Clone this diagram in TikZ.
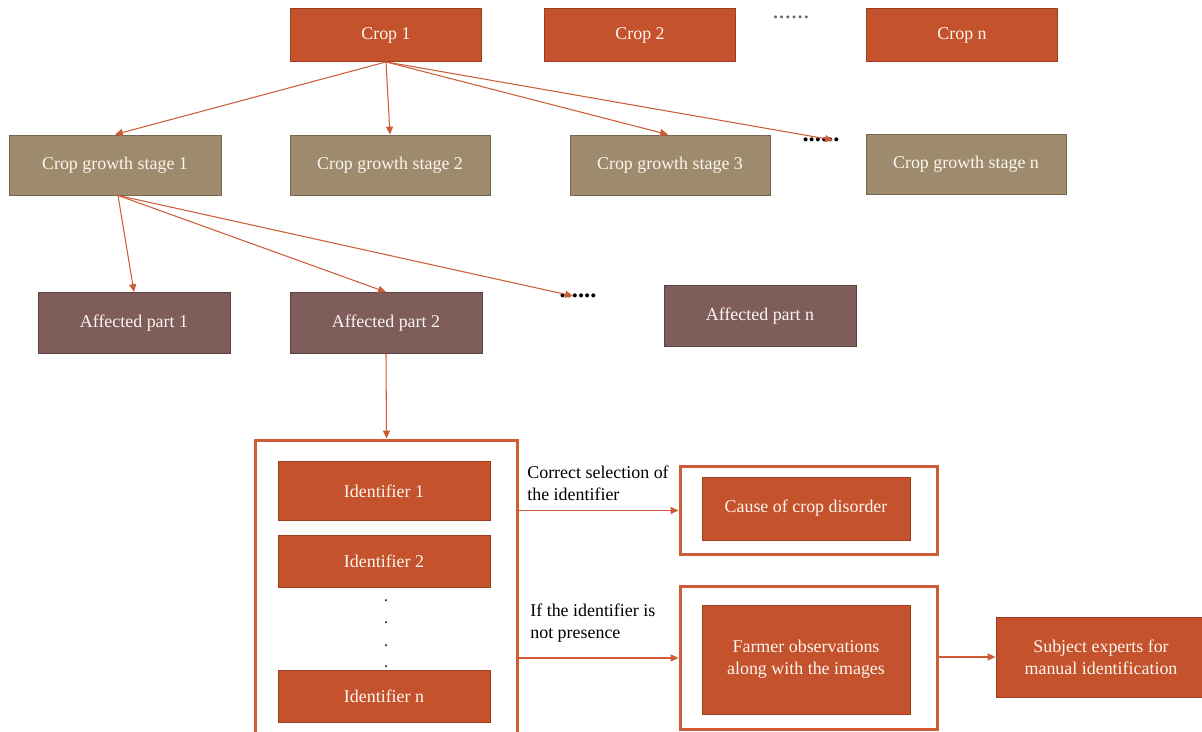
\documentclass[tikz,border=0pt]{standalone}
\usepackage{fontspec}
\setmainfont{Liberation Serif}
\usetikzlibrary{arrows.meta}

\definecolor{cropred}{RGB}{196,82,45}
\definecolor{cropedge}{RGB}{158,60,30}
\definecolor{stagetan}{RGB}{158,139,109}
\definecolor{stageedge}{RGB}{118,102,78}
\definecolor{partbrown}{RGB}{126,93,91}
\definecolor{partedge}{RGB}{92,66,64}
\definecolor{boxtext}{RGB}{252,246,238}
\definecolor{linkred}{RGB}{206,92,55}

\begin{document}
\begin{tikzpicture}[x=0.02cm,y=-0.02cm,
  font=\fontsize{10.2}{12.5}\selectfont,
  box/.style={draw=cropedge,fill=cropred,text=boxtext,line width=0.5pt,inner sep=2pt,align=center},
  cropbox/.style={box,minimum width=3.82cm,minimum height=1.06cm},
  stagebox/.style={box,draw=stageedge,fill=stagetan,minimum width=4cm,minimum height=1.2cm},
  partbox/.style={box,draw=partedge,fill=partbrown,minimum width=3.84cm,minimum height=1.22cm},
  idbox/.style={box,minimum width=4.24cm,minimum height=1.04cm},
  frame/.style={draw=linkred,line width=1.7pt,inner sep=0pt},
  dots/.style={inner sep=0pt,text=black!80},
  rowdots/.style={dots,font=\fontsize{14}{14}\selectfont},
  link/.style={draw=linkred,line width=0.6pt,-{Triangle[length=4.5pt,width=4pt]}}]
\useasboundingbox (0,0) rectangle (1202,732);

% crops
\node[cropbox] (c1) at (386,35) {Crop 1};
\node[cropbox] (c2) at (640,35) {Crop 2};
\node[rowdots,text=black!60] (cdots) at (791,17) {......};
\node[cropbox] (cn) at (962,35) {Crop n};

% growth stages
\node[stagebox,minimum width=4.24cm] (g1) at (115,165) {Crop growth stage 1};
\node[stagebox] (g2) at (390,165) {Crop growth stage 2};
\node[stagebox] (g3) at (670,165) {Crop growth stage 3};
\node[rowdots,text=black] (gdots) at (821,140) {\textbf{......}};
\node[stagebox] (gn) at (966,164) {Crop growth stage n};

\draw[link] (c1.south) -- (g1.north);
\draw[link] (c1.south) -- (g2.north);
\draw[link] (c1.south) -- ([xshift=-0.04cm]g3.north);
\draw[link] (c1.south) -- ([xshift=0.24cm]gdots.center);

% affected parts
\node[partbox] (a1) at (134,323) {Affected part 1};
\node[partbox] (a2) at (386,323) {Affected part 2};
\node[rowdots,text=black] (pdots) at (578,296) {\textbf{......}};
\node[partbox] (an) at (760,316) {Affected part n};

\draw[link] ([xshift=0.06cm]g1.south) -- (a1.north);
\draw[link] ([xshift=0.06cm]g1.south) -- (a2.north);
\draw[link] ([xshift=0.06cm]g1.south) -- ([xshift=-0.1cm]pdots.center);

% identifiers
\node[frame,minimum width=5.26cm,minimum height=6.4cm] (ids) at (386.5,600) {};
\node[idbox,minimum height=1.18cm] (id1) at (384,491) {Identifier 1};
\node[idbox] (id2) at (384,561) {Identifier 2};
\foreach \y in {601,623,646,667}
  \node[dots] (vd\y) at (386,\y) {.};
\node[idbox] (idn) at (384,696) {Identifier n};

\draw[link] (a2.south) -- (ids.north);

% outcomes
\node[frame,minimum width=5.16cm,minimum height=1.78cm] (cause) at (809,510.5) {};
\node[box,minimum width=4.16cm,minimum height=1.26cm] (causein) at (806,508.5) {Cause of crop disorder};
\node[frame,minimum width=5.16cm,minimum height=2.88cm] (farm) at (809,658) {};
\node[box,minimum width=4.16cm,minimum height=2.18cm] (farmin) at (806,659.5) {Farmer observations\\along with the images};
\node[box,minimum width=4.2cm,minimum height=1.6cm] (expert) at (1101,657) {Subject experts for\\manual identification};

\node[anchor=north west,align=left,inner sep=0pt] (okay) at (527,466) {Correct selection of\\the identifier};
\node[anchor=north west,align=left,inner sep=0pt] (miss) at (530,604) {If the identifier is\\not presence};

\draw[link] (ids.east |- cause) -- (cause.west);
\draw[link] (ids.east |- farm) -- (farm.west);
\draw[link] (farm.east |- expert) -- (expert.west);
\end{tikzpicture}
\end{document}
